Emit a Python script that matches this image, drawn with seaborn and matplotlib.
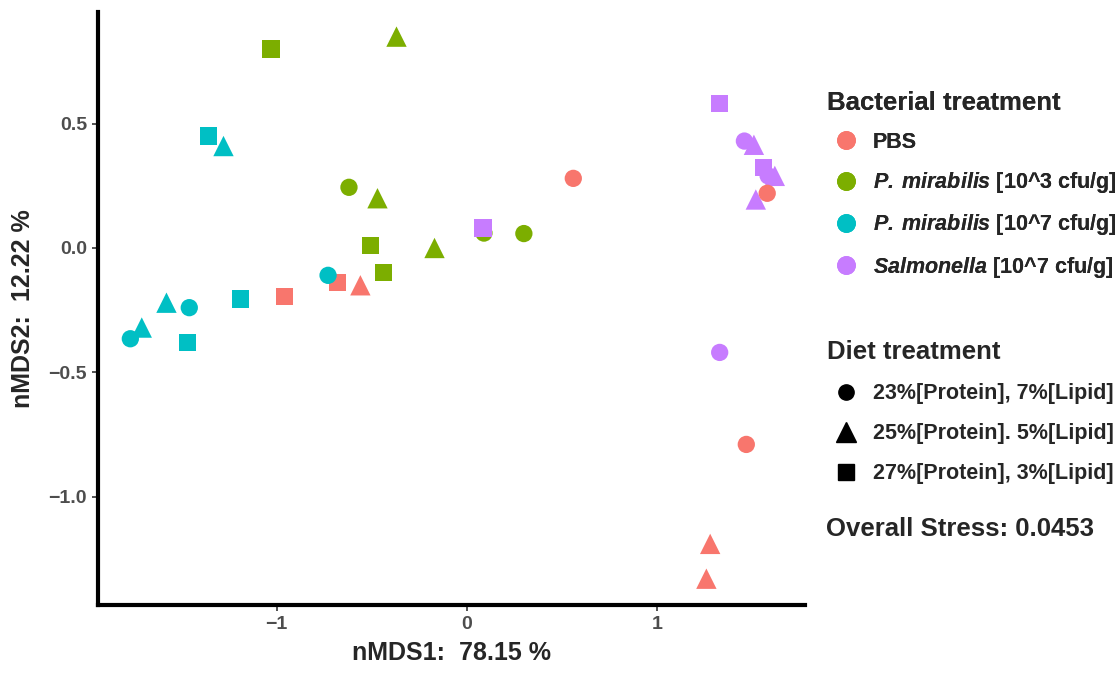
import numpy as np
import pandas as pd
import matplotlib.pyplot as plt
import seaborn as sns
from matplotlib.lines import Line2D

# nMDS scores
nmds1 = [-1.03, -0.37, -0.62, -0.47, -0.505, -0.44, -0.17, 0.09, 0.30,
         -0.96, -0.68, -0.56, 1.28, 1.26,
         -1.36, -1.28, -0.73, -1.19, -1.58, -1.46, -1.71, -1.77, -1.47,
         0.085, 1.33, 1.46, 1.51, 1.56, 1.585, 1.62, 1.52, 1.33,
         0.56, 1.58, 1.47]
nmds2 = [0.80, 0.85, 0.244, 0.20, 0.01, -0.10, 0.0, 0.06, 0.058,
         -0.196, -0.14, -0.15, -1.19, -1.33,
         0.45, 0.41, -0.11, -0.205, -0.22, -0.24, -0.32, -0.365, -0.38,
         0.08, 0.58, 0.43, 0.415, 0.325, 0.29, 0.29, 0.195, -0.42,
         0.28, 0.22, -0.79]
bacteria = (["Pm3"] * 9 + ["PBS"] * 5 + ["Pm7"] * 9 + ["Sal"] * 9 + ["PBS"] * 3)
diet = ["sq", "tri", "ci", "tri", "sq", "sq", "tri", "ci", "ci",
        "sq", "sq", "tri", "tri", "tri",
        "sq", "tri", "ci", "sq", "tri", "ci", "tri", "ci", "sq",
        "sq", "sq", "ci", "tri", "sq", "ci", "tri", "tri", "ci",
        "ci", "ci", "ci"]

bact_levels = ["PBS", "Pm3", "Pm7", "Sal"]
bact_labels = ["PBS",
               r"$\mathbfit{P.\,mirabilis}$ [10^3 cfu/g]",
               r"$\mathbfit{P.\,mirabilis}$ [10^7 cfu/g]",
               r"$\mathbfit{Salmonella}$ [10^7 cfu/g]"]
diet_levels = ["ci", "tri", "sq"]
diet_labels = ["23%[Protein], 7%[Lipid]",
               "25%[Protein]. 5%[Lipid]",
               "27%[Protein], 3%[Lipid]"]
colors = ["#F8766D", "#7CAE00", "#00BFC4", "#C77CFF"]
palette = dict(zip(bact_levels, colors))
markers = {"ci": "o", "tri": "^", "sq": "s"}
sizes = {"ci": 155, "tri": 215, "sq": 155}

df = pd.DataFrame({"nMDS1": nmds1, "nMDS2": nmds2, "bact": bacteria, "diet": diet})

sns.set_style("white")
plt.rcParams["font.family"] = ["Liberation Sans", "DejaVu Sans"]
plt.rcParams["font.weight"] = "bold"
plt.rcParams["mathtext.fontset"] = "custom"
plt.rcParams["mathtext.bfit"] = "Liberation Sans:italic:bold"
plt.rcParams["mathtext.rm"] = "Liberation Sans:bold"

fig = plt.figure(figsize=(11.19, 6.92), dpi=100)
ax = fig.add_axes([0.0876, 0.126, 0.632, 0.857])

sns.scatterplot(data=df, x="nMDS1", y="nMDS2", hue="bact", style="diet",
                size="diet", sizes=sizes, markers=markers, palette=palette,
                linewidth=0, alpha=1, legend=False, ax=ax)

ax.set_xlim(-1.94, 1.78)
ax.set_ylim(-1.435, 0.95)
ax.set_xticks([-1, 0, 1])
ax.set_xticklabels(["\u22121", "0", "1"])
ax.set_yticks([-1.0, -0.5, 0.0, 0.5])
ax.set_yticklabels(["\u22121.0", "\u22120.5", "0.0", "0.5"])
for s in ["top", "right"]:
    ax.spines[s].set_visible(False)
for s in ["left", "bottom"]:
    ax.spines[s].set_linewidth(3)
    ax.spines[s].set_color("black")
ax.tick_params(axis="both", length=4, width=1.2, color="#333333",
               labelcolor="#4D4D4D", labelsize=14, pad=4, bottom=True, left=True)
for t in ax.get_xticklabels() + ax.get_yticklabels():
    t.set_fontweight("bold")
ax.set_xlabel("nMDS1:  78.15 %", fontsize=18, fontweight="bold", labelpad=6)
ax.set_ylabel("nMDS2:  12.22 %", fontsize=18, fontweight="bold", labelpad=10)

h1 = [Line2D([], [], marker="o", ls="", color=c, markersize=12.5) for c in colors]
leg1 = fig.legend(h1, bact_labels, title="Bacterial treatment", loc="upper left",
                  bbox_to_anchor=(0.739, 0.869), frameon=False, fontsize=15.5,
                  title_fontsize=18.5, alignment="left", handlelength=1.75,
                  handletextpad=0.37, labelspacing=0.8, borderpad=0, borderaxespad=0)
leg1.get_title().set_fontweight("bold")
fig.add_artist(leg1)

h2 = [Line2D([], [], marker=markers[d], ls="", color="black",
             markersize={"ci": 11, "tri": 14, "sq": 11}[d]) for d in diet_levels]
leg2 = fig.legend(h2, diet_labels, title="Diet treatment", loc="upper left",
                  bbox_to_anchor=(0.739, 0.508), frameon=False, fontsize=15.5,
                  title_fontsize=18.5, alignment="left", handlelength=1.75,
                  handletextpad=0.37, labelspacing=0.88, borderpad=0, borderaxespad=0)
leg2.get_title().set_fontweight("bold")

fig.text(0.738, 0.236, "Overall Stress: 0.0453", fontsize=18.5, fontweight="bold",
         va="center", ha="left")

fig.savefig("out.png", dpi=100)
